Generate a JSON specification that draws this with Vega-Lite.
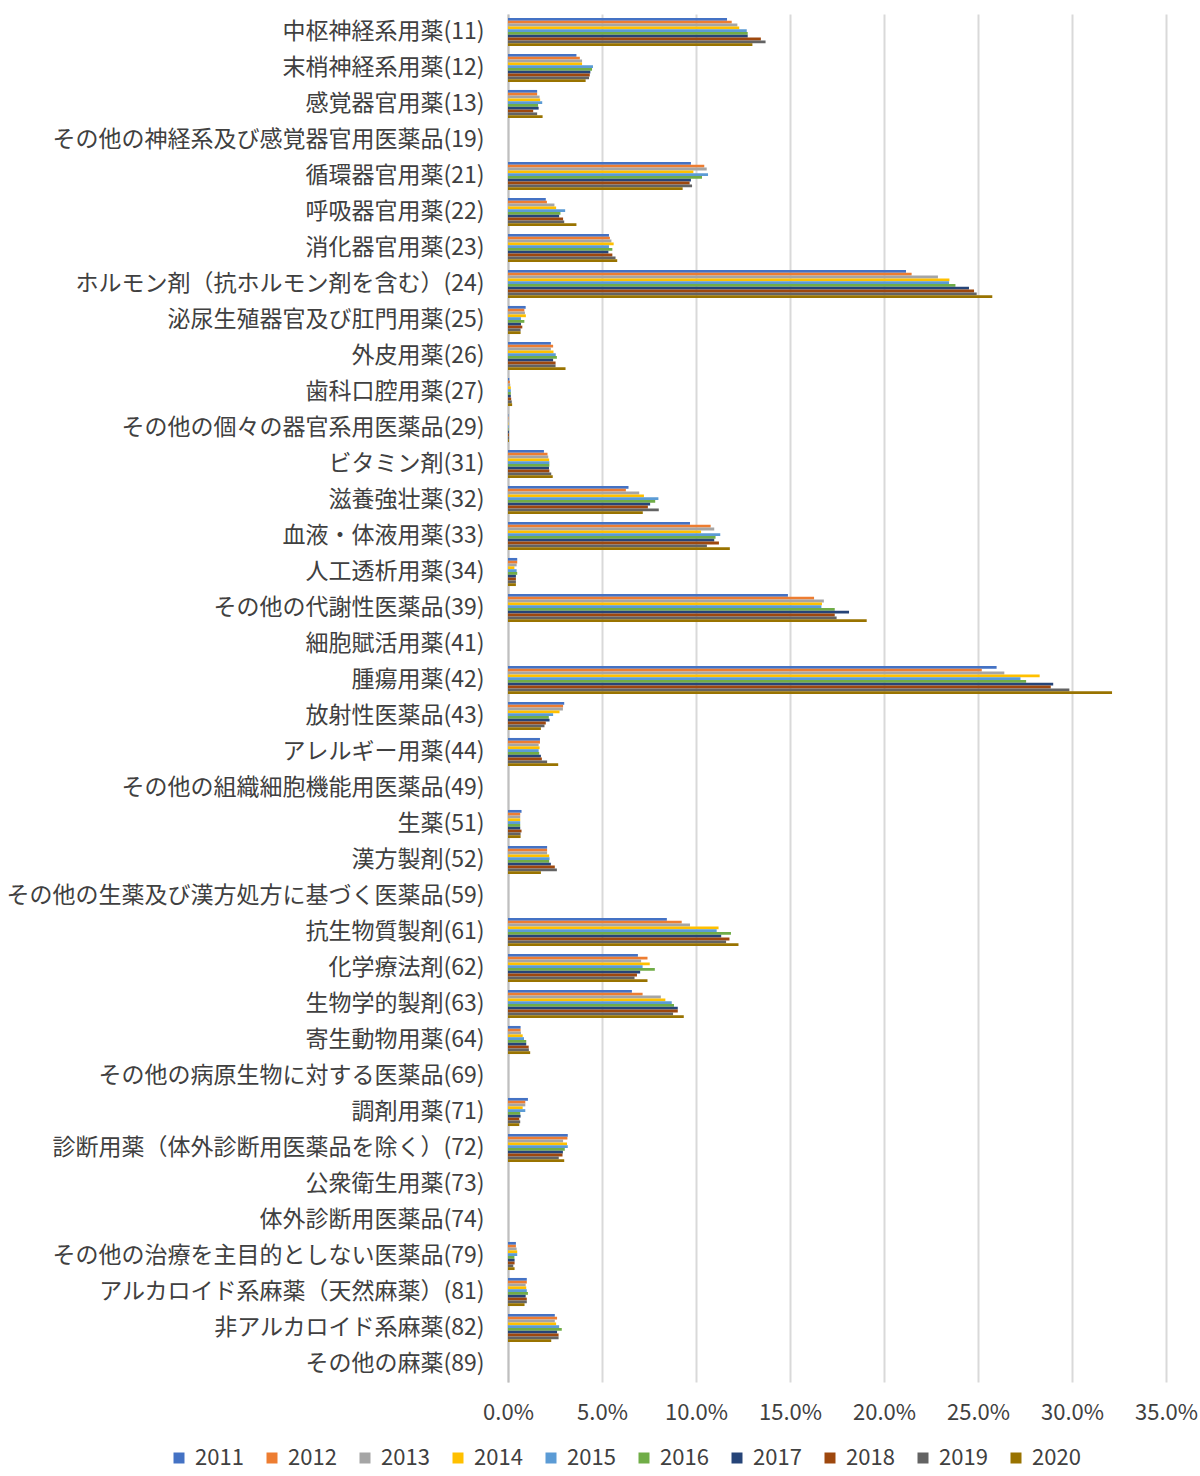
{
"$schema": "https://vega.github.io/schema/vega-lite/v6.json",
"width": 658, "height": 1368,
"autosize": {"type": "none"},
"padding": {"left": 508, "top": 14, "right": 34, "bottom": 94},
"background": "white",
"config": {"view": {"stroke": null}, "font": "Noto Sans CJK JP"},
"data": {"values": [
{"cat":"中枢神経系用薬(11)","year":"2011","value":11.65},{"cat":"中枢神経系用薬(11)","year":"2012","value":11.9},{"cat":"中枢神経系用薬(11)","year":"2013","value":12.2},{"cat":"中枢神経系用薬(11)","year":"2014","value":12.3},{"cat":"中枢神経系用薬(11)","year":"2015","value":12.7},{"cat":"中枢神経系用薬(11)","year":"2016","value":12.75},{"cat":"中枢神経系用薬(11)","year":"2017","value":12.75},{"cat":"中枢神経系用薬(11)","year":"2018","value":13.45},{"cat":"中枢神経系用薬(11)","year":"2019","value":13.7},{"cat":"中枢神経系用薬(11)","year":"2020","value":13.0},
{"cat":"末梢神経系用薬(12)","year":"2011","value":3.64},{"cat":"末梢神経系用薬(12)","year":"2012","value":3.82},{"cat":"末梢神経系用薬(12)","year":"2013","value":3.94},{"cat":"末梢神経系用薬(12)","year":"2014","value":3.94},{"cat":"末梢神経系用薬(12)","year":"2015","value":4.52},{"cat":"末梢神経系用薬(12)","year":"2016","value":4.47},{"cat":"末梢神経系用薬(12)","year":"2017","value":4.38},{"cat":"末梢神経系用薬(12)","year":"2018","value":4.35},{"cat":"末梢神経系用薬(12)","year":"2019","value":4.31},{"cat":"末梢神経系用薬(12)","year":"2020","value":4.13},
{"cat":"感覚器官用薬(13)","year":"2011","value":1.55},{"cat":"感覚器官用薬(13)","year":"2012","value":1.55},{"cat":"感覚器官用薬(13)","year":"2013","value":1.68},{"cat":"感覚器官用薬(13)","year":"2014","value":1.71},{"cat":"感覚器官用薬(13)","year":"2015","value":1.82},{"cat":"感覚器官用薬(13)","year":"2016","value":1.6},{"cat":"感覚器官用薬(13)","year":"2017","value":1.63},{"cat":"感覚器官用薬(13)","year":"2018","value":1.34},{"cat":"感覚器官用薬(13)","year":"2019","value":1.55},{"cat":"感覚器官用薬(13)","year":"2020","value":1.84},
{"cat":"循環器官用薬(21)","year":"2011","value":9.73},{"cat":"循環器官用薬(21)","year":"2012","value":10.44},{"cat":"循環器官用薬(21)","year":"2013","value":10.57},{"cat":"循環器官用薬(21)","year":"2014","value":9.86},{"cat":"循環器官用薬(21)","year":"2015","value":10.64},{"cat":"循環器官用薬(21)","year":"2016","value":10.32},{"cat":"循環器官用薬(21)","year":"2017","value":9.73},{"cat":"循環器官用薬(21)","year":"2018","value":9.66},{"cat":"循環器官用薬(21)","year":"2019","value":9.79},{"cat":"循環器官用薬(21)","year":"2020","value":9.29},
{"cat":"呼吸器官用薬(22)","year":"2011","value":2.01},{"cat":"呼吸器官用薬(22)","year":"2012","value":2.07},{"cat":"呼吸器官用薬(22)","year":"2013","value":2.47},{"cat":"呼吸器官用薬(22)","year":"2014","value":2.56},{"cat":"呼吸器官用薬(22)","year":"2015","value":3.04},{"cat":"呼吸器官用薬(22)","year":"2016","value":2.79},{"cat":"呼吸器官用薬(22)","year":"2017","value":2.72},{"cat":"呼吸器官用薬(22)","year":"2018","value":2.93},{"cat":"呼吸器官用薬(22)","year":"2019","value":2.99},{"cat":"呼吸器官用薬(22)","year":"2020","value":3.64},
{"cat":"消化器官用薬(23)","year":"2011","value":5.37},{"cat":"消化器官用薬(23)","year":"2012","value":5.42},{"cat":"消化器官用薬(23)","year":"2013","value":5.5},{"cat":"消化器官用薬(23)","year":"2014","value":5.62},{"cat":"消化器官用薬(23)","year":"2015","value":5.37},{"cat":"消化器官用薬(23)","year":"2016","value":5.55},{"cat":"消化器官用薬(23)","year":"2017","value":5.34},{"cat":"消化器官用薬(23)","year":"2018","value":5.55},{"cat":"消化器官用薬(23)","year":"2019","value":5.72},{"cat":"消化器官用薬(23)","year":"2020","value":5.81},
{"cat":"ホルモン剤（抗ホルモン剤を含む）(24)","year":"2011","value":21.17},{"cat":"ホルモン剤（抗ホルモン剤を含む）(24)","year":"2012","value":21.47},{"cat":"ホルモン剤（抗ホルモン剤を含む）(24)","year":"2013","value":22.87},{"cat":"ホルモン剤（抗ホルモン剤を含む）(24)","year":"2014","value":23.48},{"cat":"ホルモン剤（抗ホルモン剤を含む）(24)","year":"2015","value":23.46},{"cat":"ホルモン剤（抗ホルモン剤を含む）(24)","year":"2016","value":23.8},{"cat":"ホルモン剤（抗ホルモン剤を含む）(24)","year":"2017","value":24.52},{"cat":"ホルモン剤（抗ホルモン剤を含む）(24)","year":"2018","value":24.79},{"cat":"ホルモン剤（抗ホルモン剤を含む）(24)","year":"2019","value":24.93},{"cat":"ホルモン剤（抗ホルモン剤を含む）(24)","year":"2020","value":25.76},
{"cat":"泌尿生殖器官及び肛門用薬(25)","year":"2011","value":0.94},{"cat":"泌尿生殖器官及び肛門用薬(25)","year":"2012","value":0.87},{"cat":"泌尿生殖器官及び肛門用薬(25)","year":"2013","value":0.9},{"cat":"泌尿生殖器官及び肛門用薬(25)","year":"2014","value":0.95},{"cat":"泌尿生殖器官及び肛門用薬(25)","year":"2015","value":0.69},{"cat":"泌尿生殖器官及び肛門用薬(25)","year":"2016","value":0.87},{"cat":"泌尿生殖器官及び肛門用薬(25)","year":"2017","value":0.69},{"cat":"泌尿生殖器官及び肛門用薬(25)","year":"2018","value":0.76},{"cat":"泌尿生殖器官及び肛門用薬(25)","year":"2019","value":0.67},{"cat":"泌尿生殖器官及び肛門用薬(25)","year":"2020","value":0.67},
{"cat":"外皮用薬(26)","year":"2011","value":2.28},{"cat":"外皮用薬(26)","year":"2012","value":2.4},{"cat":"外皮用薬(26)","year":"2013","value":2.28},{"cat":"外皮用薬(26)","year":"2014","value":2.42},{"cat":"外皮用薬(26)","year":"2015","value":2.54},{"cat":"外皮用薬(26)","year":"2016","value":2.6},{"cat":"外皮用薬(26)","year":"2017","value":2.4},{"cat":"外皮用薬(26)","year":"2018","value":2.53},{"cat":"外皮用薬(26)","year":"2019","value":2.53},{"cat":"外皮用薬(26)","year":"2020","value":3.06},
{"cat":"歯科口腔用薬(27)","year":"2011","value":0.07},{"cat":"歯科口腔用薬(27)","year":"2012","value":0.1},{"cat":"歯科口腔用薬(27)","year":"2013","value":0.12},{"cat":"歯科口腔用薬(27)","year":"2014","value":0.15},{"cat":"歯科口腔用薬(27)","year":"2015","value":0.15},{"cat":"歯科口腔用薬(27)","year":"2016","value":0.15},{"cat":"歯科口腔用薬(27)","year":"2017","value":0.15},{"cat":"歯科口腔用薬(27)","year":"2018","value":0.17},{"cat":"歯科口腔用薬(27)","year":"2019","value":0.2},{"cat":"歯科口腔用薬(27)","year":"2020","value":0.22},
{"cat":"その他の個々の器官系用医薬品(29)","year":"2011","value":0.02},{"cat":"その他の個々の器官系用医薬品(29)","year":"2012","value":0.02},{"cat":"その他の個々の器官系用医薬品(29)","year":"2013","value":0.02},{"cat":"その他の個々の器官系用医薬品(29)","year":"2014","value":0.02},{"cat":"その他の個々の器官系用医薬品(29)","year":"2015","value":0.03},{"cat":"その他の個々の器官系用医薬品(29)","year":"2016","value":0.03},{"cat":"その他の個々の器官系用医薬品(29)","year":"2017","value":0.05},{"cat":"その他の個々の器官系用医薬品(29)","year":"2018","value":0.05},{"cat":"その他の個々の器官系用医薬品(29)","year":"2019","value":0.05},{"cat":"その他の個々の器官系用医薬品(29)","year":"2020","value":0.05},
{"cat":"ビタミン剤(31)","year":"2011","value":1.91},{"cat":"ビタミン剤(31)","year":"2012","value":2.1},{"cat":"ビタミン剤(31)","year":"2013","value":2.14},{"cat":"ビタミン剤(31)","year":"2014","value":2.19},{"cat":"ビタミン剤(31)","year":"2015","value":2.2},{"cat":"ビタミン剤(31)","year":"2016","value":2.2},{"cat":"ビタミン剤(31)","year":"2017","value":2.18},{"cat":"ビタミン剤(31)","year":"2018","value":2.2},{"cat":"ビタミン剤(31)","year":"2019","value":2.3},{"cat":"ビタミン剤(31)","year":"2020","value":2.38},
{"cat":"滋養強壮薬(32)","year":"2011","value":6.41},{"cat":"滋養強壮薬(32)","year":"2012","value":6.27},{"cat":"滋養強壮薬(32)","year":"2013","value":6.98},{"cat":"滋養強壮薬(32)","year":"2014","value":7.23},{"cat":"滋養強壮薬(32)","year":"2015","value":8.0},{"cat":"滋養強壮薬(32)","year":"2016","value":7.83},{"cat":"滋養強壮薬(32)","year":"2017","value":7.56},{"cat":"滋養強壮薬(32)","year":"2018","value":7.44},{"cat":"滋養強壮薬(32)","year":"2019","value":8.02},{"cat":"滋養強壮薬(32)","year":"2020","value":7.17},
{"cat":"血液・体液用薬(33)","year":"2011","value":9.68},{"cat":"血液・体液用薬(33)","year":"2012","value":10.78},{"cat":"血液・体液用薬(33)","year":"2013","value":10.97},{"cat":"血液・体液用薬(33)","year":"2014","value":10.27},{"cat":"血液・体液用薬(33)","year":"2015","value":11.29},{"cat":"血液・体液用薬(33)","year":"2016","value":11.04},{"cat":"血液・体液用薬(33)","year":"2017","value":10.97},{"cat":"血液・体液用薬(33)","year":"2018","value":11.22},{"cat":"血液・体液用薬(33)","year":"2019","value":10.58},{"cat":"血液・体液用薬(33)","year":"2020","value":11.8},
{"cat":"人工透析用薬(34)","year":"2011","value":0.49},{"cat":"人工透析用薬(34)","year":"2012","value":0.49},{"cat":"人工透析用薬(34)","year":"2013","value":0.46},{"cat":"人工透析用薬(34)","year":"2014","value":0.34},{"cat":"人工透析用薬(34)","year":"2015","value":0.46},{"cat":"人工透析用薬(34)","year":"2016","value":0.49},{"cat":"人工透析用薬(34)","year":"2017","value":0.42},{"cat":"人工透析用薬(34)","year":"2018","value":0.42},{"cat":"人工透析用薬(34)","year":"2019","value":0.42},{"cat":"人工透析用薬(34)","year":"2020","value":0.42},
{"cat":"その他の代謝性医薬品(39)","year":"2011","value":14.89},{"cat":"その他の代謝性医薬品(39)","year":"2012","value":16.28},{"cat":"その他の代謝性医薬品(39)","year":"2013","value":16.8},{"cat":"その他の代謝性医薬品(39)","year":"2014","value":16.7},{"cat":"その他の代謝性医薬品(39)","year":"2015","value":16.67},{"cat":"その他の代謝性医薬品(39)","year":"2016","value":17.38},{"cat":"その他の代謝性医薬品(39)","year":"2017","value":18.14},{"cat":"その他の代謝性医薬品(39)","year":"2018","value":17.38},{"cat":"その他の代謝性医薬品(39)","year":"2019","value":17.48},{"cat":"その他の代謝性医薬品(39)","year":"2020","value":19.08},
{"cat":"腫瘍用薬(42)","year":"2011","value":25.99},{"cat":"腫瘍用薬(42)","year":"2012","value":25.2},{"cat":"腫瘍用薬(42)","year":"2013","value":26.4},{"cat":"腫瘍用薬(42)","year":"2014","value":28.28},{"cat":"腫瘍用薬(42)","year":"2015","value":27.26},{"cat":"腫瘍用薬(42)","year":"2016","value":27.56},{"cat":"腫瘍用薬(42)","year":"2017","value":29.0},{"cat":"腫瘍用薬(42)","year":"2018","value":28.87},{"cat":"腫瘍用薬(42)","year":"2019","value":29.86},{"cat":"腫瘍用薬(42)","year":"2020","value":32.13},
{"cat":"放射性医薬品(43)","year":"2011","value":2.99},{"cat":"放射性医薬品(43)","year":"2012","value":2.93},{"cat":"放射性医薬品(43)","year":"2013","value":2.92},{"cat":"放射性医薬品(43)","year":"2014","value":2.74},{"cat":"放射性医薬品(43)","year":"2015","value":2.4},{"cat":"放射性医薬品(43)","year":"2016","value":2.17},{"cat":"放射性医薬品(43)","year":"2017","value":2.21},{"cat":"放射性医薬品(43)","year":"2018","value":2.01},{"cat":"放射性医薬品(43)","year":"2019","value":1.94},{"cat":"放射性医薬品(43)","year":"2020","value":1.75},
{"cat":"アレルギー用薬(44)","year":"2011","value":1.7},{"cat":"アレルギー用薬(44)","year":"2012","value":1.7},{"cat":"アレルギー用薬(44)","year":"2013","value":1.63},{"cat":"アレルギー用薬(44)","year":"2014","value":1.68},{"cat":"アレルギー用薬(44)","year":"2015","value":1.63},{"cat":"アレルギー用薬(44)","year":"2016","value":1.66},{"cat":"アレルギー用薬(44)","year":"2017","value":1.75},{"cat":"アレルギー用薬(44)","year":"2018","value":1.8},{"cat":"アレルギー用薬(44)","year":"2019","value":2.08},{"cat":"アレルギー用薬(44)","year":"2020","value":2.67},
{"cat":"生薬(51)","year":"2011","value":0.72},{"cat":"生薬(51)","year":"2012","value":0.65},{"cat":"生薬(51)","year":"2013","value":0.65},{"cat":"生薬(51)","year":"2014","value":0.65},{"cat":"生薬(51)","year":"2015","value":0.65},{"cat":"生薬(51)","year":"2016","value":0.65},{"cat":"生薬(51)","year":"2017","value":0.65},{"cat":"生薬(51)","year":"2018","value":0.72},{"cat":"生薬(51)","year":"2019","value":0.67},{"cat":"生薬(51)","year":"2020","value":0.67},
{"cat":"漢方製剤(52)","year":"2011","value":2.08},{"cat":"漢方製剤(52)","year":"2012","value":2.08},{"cat":"漢方製剤(52)","year":"2013","value":2.08},{"cat":"漢方製剤(52)","year":"2014","value":2.19},{"cat":"漢方製剤(52)","year":"2015","value":2.21},{"cat":"漢方製剤(52)","year":"2016","value":2.19},{"cat":"漢方製剤(52)","year":"2017","value":2.28},{"cat":"漢方製剤(52)","year":"2018","value":2.49},{"cat":"漢方製剤(52)","year":"2019","value":2.6},{"cat":"漢方製剤(52)","year":"2020","value":1.75},
{"cat":"抗生物質製剤(61)","year":"2011","value":8.45},{"cat":"抗生物質製剤(61)","year":"2012","value":9.24},{"cat":"抗生物質製剤(61)","year":"2013","value":9.68},{"cat":"抗生物質製剤(61)","year":"2014","value":11.2},{"cat":"抗生物質製剤(61)","year":"2015","value":11.1},{"cat":"抗生物質製剤(61)","year":"2016","value":11.86},{"cat":"抗生物質製剤(61)","year":"2017","value":11.34},{"cat":"抗生物質製剤(61)","year":"2018","value":11.78},{"cat":"抗生物質製剤(61)","year":"2019","value":11.6},{"cat":"抗生物質製剤(61)","year":"2020","value":12.26},
{"cat":"化学療法剤(62)","year":"2011","value":6.91},{"cat":"化学療法剤(62)","year":"2012","value":7.42},{"cat":"化学療法剤(62)","year":"2013","value":7.08},{"cat":"化学療法剤(62)","year":"2014","value":7.54},{"cat":"化学療法剤(62)","year":"2015","value":7.16},{"cat":"化学療法剤(62)","year":"2016","value":7.81},{"cat":"化学療法剤(62)","year":"2017","value":7.03},{"cat":"化学療法剤(62)","year":"2018","value":6.86},{"cat":"化学療法剤(62)","year":"2019","value":6.73},{"cat":"化学療法剤(62)","year":"2020","value":7.42},
{"cat":"生物学的製剤(63)","year":"2011","value":6.59},{"cat":"生物学的製剤(63)","year":"2012","value":7.16},{"cat":"生物学的製剤(63)","year":"2013","value":8.13},{"cat":"生物学的製剤(63)","year":"2014","value":8.37},{"cat":"生物学的製剤(63)","year":"2015","value":8.71},{"cat":"生物学的製剤(63)","year":"2016","value":8.83},{"cat":"生物学的製剤(63)","year":"2017","value":9.03},{"cat":"生物学的製剤(63)","year":"2018","value":9.03},{"cat":"生物学的製剤(63)","year":"2019","value":8.78},{"cat":"生物学的製剤(63)","year":"2020","value":9.35},
{"cat":"寄生動物用薬(64)","year":"2011","value":0.67},{"cat":"寄生動物用薬(64)","year":"2012","value":0.67},{"cat":"寄生動物用薬(64)","year":"2013","value":0.69},{"cat":"寄生動物用薬(64)","year":"2014","value":0.78},{"cat":"寄生動物用薬(64)","year":"2015","value":0.85},{"cat":"寄生動物用薬(64)","year":"2016","value":0.97},{"cat":"寄生動物用薬(64)","year":"2017","value":0.97},{"cat":"寄生動物用薬(64)","year":"2018","value":1.1},{"cat":"寄生動物用薬(64)","year":"2019","value":1.11},{"cat":"寄生動物用薬(64)","year":"2020","value":1.18},
{"cat":"調剤用薬(71)","year":"2011","value":1.06},{"cat":"調剤用薬(71)","year":"2012","value":0.92},{"cat":"調剤用薬(71)","year":"2013","value":0.92},{"cat":"調剤用薬(71)","year":"2014","value":0.78},{"cat":"調剤用薬(71)","year":"2015","value":0.92},{"cat":"調剤用薬(71)","year":"2016","value":0.65},{"cat":"調剤用薬(71)","year":"2017","value":0.67},{"cat":"調剤用薬(71)","year":"2018","value":0.6},{"cat":"調剤用薬(71)","year":"2019","value":0.65},{"cat":"調剤用薬(71)","year":"2020","value":0.6},
{"cat":"診断用薬（体外診断用医薬品を除く）(72)","year":"2011","value":3.18},{"cat":"診断用薬（体外診断用医薬品を除く）(72)","year":"2012","value":3.16},{"cat":"診断用薬（体外診断用医薬品を除く）(72)","year":"2013","value":2.93},{"cat":"診断用薬（体外診断用医薬品を除く）(72)","year":"2014","value":3.14},{"cat":"診断用薬（体外診断用医薬品を除く）(72)","year":"2015","value":3.18},{"cat":"診断用薬（体外診断用医薬品を除く）(72)","year":"2016","value":3.02},{"cat":"診断用薬（体外診断用医薬品を除く）(72)","year":"2017","value":2.92},{"cat":"診断用薬（体外診断用医薬品を除く）(72)","year":"2018","value":2.9},{"cat":"診断用薬（体外診断用医薬品を除く）(72)","year":"2019","value":2.7},{"cat":"診断用薬（体外診断用医薬品を除く）(72)","year":"2020","value":2.99},
{"cat":"その他の治療を主目的としない医薬品(79)","year":"2011","value":0.42},{"cat":"その他の治療を主目的としない医薬品(79)","year":"2012","value":0.42},{"cat":"その他の治療を主目的としない医薬品(79)","year":"2013","value":0.46},{"cat":"その他の治療を主目的としない医薬品(79)","year":"2014","value":0.49},{"cat":"その他の治療を主目的としない医薬品(79)","year":"2015","value":0.49},{"cat":"その他の治療を主目的としない医薬品(79)","year":"2016","value":0.34},{"cat":"その他の治療を主目的としない医薬品(79)","year":"2017","value":0.35},{"cat":"その他の治療を主目的としない医薬品(79)","year":"2018","value":0.35},{"cat":"その他の治療を主目的としない医薬品(79)","year":"2019","value":0.28},{"cat":"その他の治療を主目的としない医薬品(79)","year":"2020","value":0.35},
{"cat":"アルカロイド系麻薬（天然麻薬）(81)","year":"2011","value":1.0},{"cat":"アルカロイド系麻薬（天然麻薬）(81)","year":"2012","value":1.0},{"cat":"アルカロイド系麻薬（天然麻薬）(81)","year":"2013","value":0.94},{"cat":"アルカロイド系麻薬（天然麻薬）(81)","year":"2014","value":0.97},{"cat":"アルカロイド系麻薬（天然麻薬）(81)","year":"2015","value":1.0},{"cat":"アルカロイド系麻薬（天然麻薬）(81)","year":"2016","value":1.06},{"cat":"アルカロイド系麻薬（天然麻薬）(81)","year":"2017","value":0.94},{"cat":"アルカロイド系麻薬（天然麻薬）(81)","year":"2018","value":1.0},{"cat":"アルカロイド系麻薬（天然麻薬）(81)","year":"2019","value":1.0},{"cat":"アルカロイド系麻薬（天然麻薬）(81)","year":"2020","value":0.88},
{"cat":"非アルカロイド系麻薬(82)","year":"2011","value":2.49},{"cat":"非アルカロイド系麻薬(82)","year":"2012","value":2.61},{"cat":"非アルカロイド系麻薬(82)","year":"2013","value":2.49},{"cat":"非アルカロイド系麻薬(82)","year":"2014","value":2.56},{"cat":"非アルカロイド系麻薬(82)","year":"2015","value":2.72},{"cat":"非アルカロイド系麻薬(82)","year":"2016","value":2.86},{"cat":"非アルカロイド系麻薬(82)","year":"2017","value":2.61},{"cat":"非アルカロイド系麻薬(82)","year":"2018","value":2.69},{"cat":"非アルカロイド系麻薬(82)","year":"2019","value":2.69},{"cat":"非アルカロイド系麻薬(82)","year":"2020","value":2.3}
]},
"mark": {"type": "bar"},
"encoding": {
  "y": {"field": "cat", "type": "nominal",
    "scale": {"domain": ["中枢神経系用薬(11)","末梢神経系用薬(12)","感覚器官用薬(13)","その他の神経系及び感覚器官用医薬品(19)","循環器官用薬(21)","呼吸器官用薬(22)","消化器官用薬(23)","ホルモン剤（抗ホルモン剤を含む）(24)","泌尿生殖器官及び肛門用薬(25)","外皮用薬(26)","歯科口腔用薬(27)","その他の個々の器官系用医薬品(29)","ビタミン剤(31)","滋養強壮薬(32)","血液・体液用薬(33)","人工透析用薬(34)","その他の代謝性医薬品(39)","細胞賦活用薬(41)","腫瘍用薬(42)","放射性医薬品(43)","アレルギー用薬(44)","その他の組織細胞機能用医薬品(49)","生薬(51)","漢方製剤(52)","その他の生薬及び漢方処方に基づく医薬品(59)","抗生物質製剤(61)","化学療法剤(62)","生物学的製剤(63)","寄生動物用薬(64)","その他の病原生物に対する医薬品(69)","調剤用薬(71)","診断用薬（体外診断用医薬品を除く）(72)","公衆衛生用薬(73)","体外診断用医薬品(74)","その他の治療を主目的としない医薬品(79)","アルカロイド系麻薬（天然麻薬）(81)","非アルカロイド系麻薬(82)","その他の麻薬(89)"],
      "paddingInner": 0.22, "paddingOuter": 0.11},
    "axis": {"title": null, "ticks": false, "grid": false, "domainColor": "#bfbfbf", "domainWidth": 2, "labelFontSize": 23, "labelColor": "#404040", "labelPadding": 24, "labelLimit": 600}},
  "yOffset": {"field": "year", "type": "nominal", "sort": ["2011","2012","2013","2014","2015","2016","2017","2018","2019","2020"], "scale": {"paddingInner": 0, "paddingOuter": 0}},
  "x": {"field": "value", "type": "quantitative", "scale": {"domain": [0, 35], "nice": false},
    "axis": {"title": null, "values": [0,5,10,15,20,25,30,35], "labelExpr": "format(datum.value, '.1f') + '%'", "labelFlush": false, "labelOverlap": false, "domain": false, "ticks": false, "grid": true, "gridColor": "#d9d9d9", "gridWidth": 2, "labelFontSize": 22, "labelColor": "#404040", "labelPadding": 20}},
  "color": {"field": "year", "type": "nominal",
    "scale": {"domain": ["2011","2012","2013","2014","2015","2016","2017","2018","2019","2020"], "range": ["#4472C4","#ED7D31","#A5A5A5","#FFC000","#5B9BD5","#70AD47","#264478","#9E480E","#636363","#997300"]},
    "legend": {"orient": "none", "legendX": -340, "legendY": 1433, "direction": "horizontal", "columns": 10, "title": null, "symbolType": "square", "symbolSize": 121, "symbolStrokeWidth": 0, "labelFontSize": 22, "labelColor": "#404040", "columnPadding": 17, "labelOffset": 5}}
}
}
